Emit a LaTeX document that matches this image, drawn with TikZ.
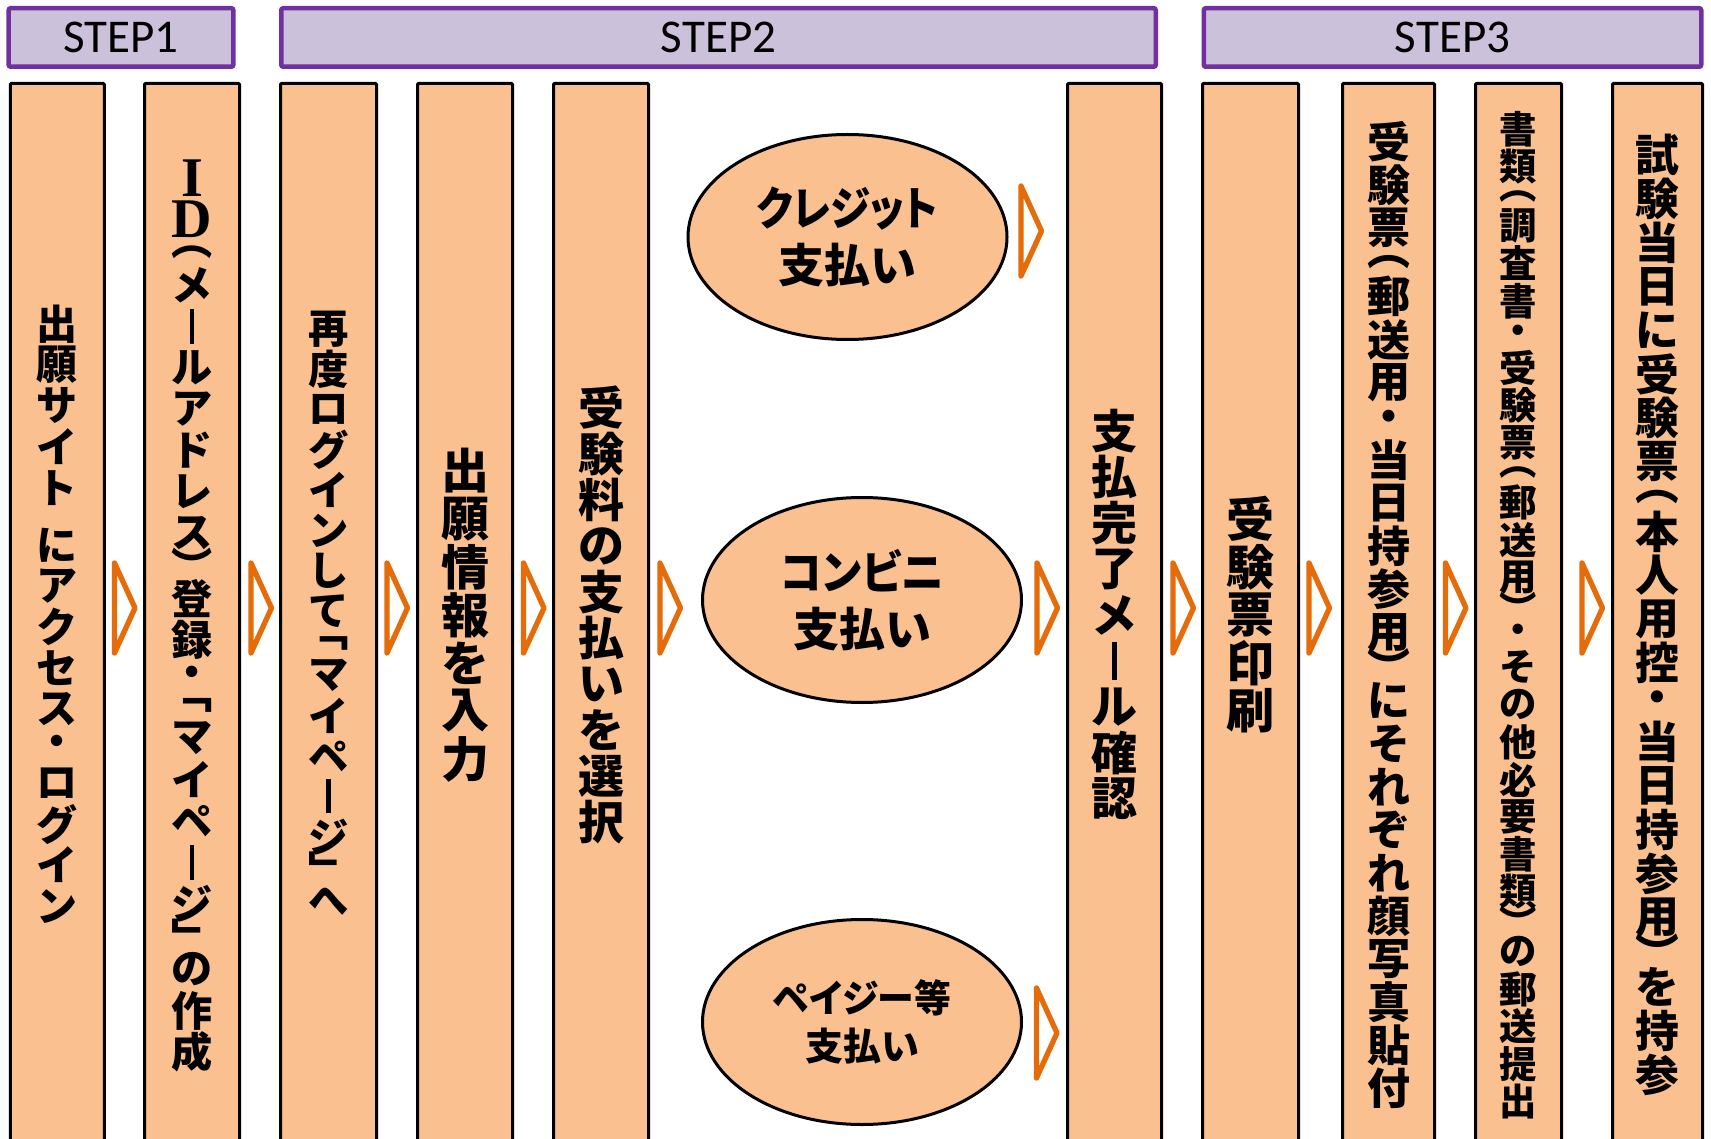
\documentclass[tikz,border=0pt]{standalone}
\usepackage{graphicx}
\usepackage{fontspec}
\setmainfont{Carlito}
\newfontfamily\jpfont{Noto Sans CJK JP}
\newfontfamily\jppfont[RawFeature=+palt]{Noto Sans CJK JP}
\newfontfamily\idfont{Liberation Serif}
\usetikzlibrary{shapes.geometric}
\definecolor{stepline}{RGB}{112,48,160}
\definecolor{stepfill}{RGB}{204,193,218}
\definecolor{boxfill}{RGB}{250,192,144}
\definecolor{arroworange}{RGB}{228,108,10}

% vertical (tategaki) text: one character per line
\makeatletter
\newlength\tatep
\newcommand\tatesp{}
\newcommand\idI{{\idfont\fontsize{56}{56}\selectfont I}}
\newcommand\idD{{\idfont\fontsize{56}{56}\selectfont D}}
\def\tate@open{︵}\def\tate@close{︶}
\def\tate@lb{﹁}\def\tate@rb{﹂}
\def\tate@dot{・}\def\tate@bar{ー}\def\tate@sp{\tatesp}
\newcommand\tate[2]{%
  \setlength\tatep{#1}%
  \fontsize{#1}{#1}\selectfont
  \vbox{\offinterlineskip\@tfor\tate@c:=#2\do{\tate@put}}}
\def\tate@put{%
  \def\tate@f{1}%
  \ifx\tate@c\tate@open \def\tate@f{.6}\fi
  \ifx\tate@c\tate@close \def\tate@f{.6}\fi
  \ifx\tate@c\tate@lb \def\tate@f{.6}\fi
  \ifx\tate@c\tate@rb \def\tate@f{.6}\fi
  \ifx\tate@c\tate@dot \def\tate@f{.8}\fi
  \ifx\tate@c\tate@sp \def\tate@f{.4}\fi
  \ifx\tate@c\tate@bar \def\tate@c{\vrule width .1\tatep height .42\tatep depth .42\tatep}\fi
  \vbox to \tate@f\tatep{\vss\hbox to 1.1\tatep{\hss\tate@c\hss}\vss}}
\makeatother

\tikzset{
  stepbar/.style={draw=stepline, fill=stepfill, line width=4.5pt, rounded corners=2pt,
    minimum height=58.5pt, inner sep=0pt, font=\fontsize{47}{47}\selectfont},
  column/.style={draw=black, fill=boxfill, line width=3pt, rounded corners=1pt,
    minimum height=1063pt, inner sep=0pt, font=\jpfont\bfseries},
  payoval/.style={ellipse, draw=black, fill=boxfill, line width=3pt,
    minimum width=319pt, minimum height=205pt, inner sep=0pt, align=center,
    font=\jppfont\bfseries\fontsize{46}{57}\selectfont},
  chevron/.pic={
    \draw[arroworange, line width=5.3pt, line join=round, fill=white]
      (-10,-45) -- (10.5,0) -- (-10,45) -- cycle;
  }
}

\begin{document}
\begin{tikzpicture}[x=1pt, y=-1pt]
\fill[white] (0,0) rectangle (1711,1139);
\useasboundingbox (0,0) rectangle (1711,1139);

% step headers
\node[stepbar, minimum width=224.7pt] (step1) at (121,37.5) {STEP1};
\node[stepbar, minimum width=874.5pt] (step2) at (718.5,37.5) {STEP2};
\node[stepbar, minimum width=497.5pt] (step3) at (1452.5,37.5) {STEP3};

% columns
\node[column, minimum width=94pt] (c1) at (57.25,615) {\tate{41pt}{出願サイト\tatesp にアクセス・ログイン}};
\node[column, minimum width=95pt] (c2) at (192,615) {\tate{41.2pt}{\idI\idD︵メールアドレス︶登録・﹁マイページ﹂の作成}};
\node[column, minimum width=96pt] (c3) at (328.5,615) {\tate{40.3pt}{再度ログインして﹁マイページ﹂へ}};
\node[column, minimum width=95pt] (c4) at (465,615) {\tate{48pt}{出願情報を入力}};
\node[column, minimum width=95pt] (c5) at (601,615) {\tate{46pt}{受験料の支払いを選択}};
\node[column, minimum width=94pt] (c6) at (1114.5,615) {\tate{46pt}{支払完了メール確認}};
\node[column, minimum width=96pt] (c7) at (1250.5,615) {\tate{48pt}{受験票印刷}};
\node[column, minimum width=92pt] (c8) at (1388.5,615) {\tate{43pt}{受験票︵郵送用・当日持参用︶にそれぞれ顔写真貼付}};
\node[column, minimum width=86pt] (c9) at (1518.5,615) {\tate{37.4pt}{書類︵調査書・受験票︵郵送用︶・その他必要書類︶の郵送提出}};
\node[column, minimum width=90pt] (c10) at (1657.5,615) {\tate{43.8pt}{試験当日に受験票︵本人用控・当日持参用︶を持参}};

% payment methods
\node[payoval] (credit) at (847.5,237) {\scalebox{.88}[1]{クレジット}\\支払い};
\node[payoval] (konbini) at (862,600) {\scalebox{.93}[1]{コンビニ}\\支払い};
\node[payoval, font=\jppfont\bfseries\fontsize{38}{48}\selectfont] (payeasy) at (862,1022) {\scalebox{.97}[1]{ペイジー等}\\支払い};

% arrows
\pic (a1) at (124.5,608) {chevron};
\pic (a2) at (261,608) {chevron};
\pic (a3) at (397,608) {chevron};
\pic (a4) at (533.5,608) {chevron};
\pic (a5) at (670,608) {chevron};
\pic (a6) at (1031,231) {chevron};
\pic (a7) at (1047,608) {chevron};
\pic (a8) at (1046.5,1033) {chevron};
\pic (a9) at (1183,608) {chevron};
\pic (a10) at (1319,608) {chevron};
\pic (a11) at (1455.5,608) {chevron};
\pic (a12) at (1592,608) {chevron};
\end{tikzpicture}
\end{document}
